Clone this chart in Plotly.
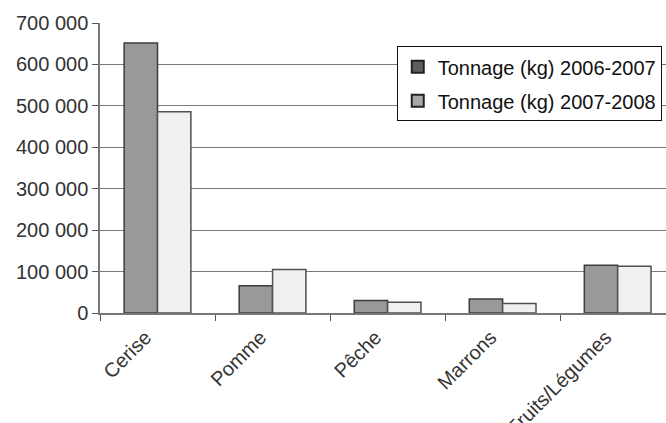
import plotly.graph_objects as go

categories = ["Cerise", "Pomme", "Pêche", "Marrons", "Fruits/Légumes"]
tonnage_2006_2007 = [652000, 66000, 30000, 34000, 115000]
tonnage_2007_2008 = [486000, 105000, 26000, 23000, 113000]
series_names = ["Tonnage (kg) 2006-2007", "Tonnage (kg) 2007-2008"]
y_ticks = [0, 100000, 200000, 300000, 400000, 500000, 600000, 700000]

FONT = "Liberation Sans"

fig = go.Figure()

# bars
fig.add_trace(go.Bar(
    x=categories, y=tonnage_2006_2007, name=series_names[0], showlegend=False,
    marker=dict(color="#999999", line=dict(color="#3c3c3c", width=1.5)),
))
fig.add_trace(go.Bar(
    x=categories, y=tonnage_2007_2008, name=series_names[1], showlegend=False,
    marker=dict(color="#f0f0f0", line=dict(color="#505050", width=1.5)),
))

# legend keys
for i, (name, col) in enumerate(zip(series_names, ["#5e5e5e", "#a9a9a9"])):
    fig.add_trace(go.Scatter(
        x=[None], y=[None], mode="markers", name=name, legendgroup=f"g{i}",
        marker=dict(symbol="square", size=9, color=col,
                    line=dict(color="#222222", width=1)),
    ))

fig.update_layout(
    width=666, height=423,
    margin=dict(l=100, r=0, t=23, b=110, pad=0),
    paper_bgcolor="white", plot_bgcolor="white",
    barmode="group", bargap=0.42, bargroupgap=0,
    separators=", ",
    font=dict(family=FONT, size=20, color="#333333"),
    legend=dict(
        x=661 / 666, y=1 - 34 / 423, xanchor="right", yanchor="top",
        bgcolor="white", bordercolor="#111111", borderwidth=1,
        font=dict(family=FONT, size=20, color="#111111"),
        itemsizing="constant", traceorder="grouped", tracegroupgap=5,
    ),
)

fig.update_xaxes(
    type="category", range=[-0.5, 4.42], automargin=False,
    tickangle=-45, tickson="boundaries",
    ticks="outside", ticklen=6, tickcolor="#555555",
    ticklabelstandoff=3, ticklabelshift=-12,
    showline=True, linecolor="#777777", linewidth=1.5,
    showgrid=False,
    tickfont=dict(family=FONT, size=20, color="#333333"),
)
fig.update_yaxes(
    range=[0, 700000], tickvals=y_ticks, tickformat=",d", automargin=False,
    ticks="outside", ticklen=6, tickcolor="#555555",
    showline=True, linecolor="#777777", linewidth=1.5,
    showgrid=True, gridcolor="#7a7a7a", gridwidth=1.2,
    zeroline=False,
    tickfont=dict(family=FONT, size=20, color="#333333"),
)

fig.write_html("out.html")
